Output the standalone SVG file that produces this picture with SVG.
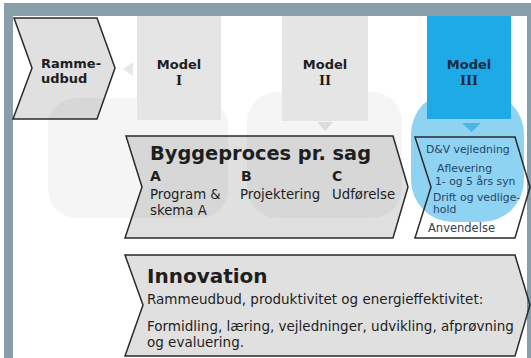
<svg xmlns="http://www.w3.org/2000/svg" width="531" height="358" viewBox="0 0 531 358">
<style>
.t{font-family:"DejaVu Sans","Liberation Sans",sans-serif;fill:#1e1e1e}
.b{font-weight:bold}
.num{font-family:"DejaVu Serif","Liberation Serif",serif;font-weight:bold}
.chev{fill:#000;fill-opacity:.12;stroke:#2a2a2a;stroke-width:1.5;stroke-linejoin:miter}
.chevw{fill:none;stroke:#2a2a2a;stroke-width:1.5;stroke-linejoin:miter}
.mbox{fill:#e5e5e5}
.frame{fill:#889ea8}
.bg{fill:#000;fill-opacity:.04}
.bt{fill:#24456a}
</style>
<rect width="531" height="358" fill="#ffffff"/>
<g id="frame">
<rect class="frame" x="4" y="3" width="527" height="13"/>
<rect class="frame" x="4" y="3" width="9" height="355"/>
<rect class="frame" x="527" y="3" width="4" height="355"/>
</g>
<g id="background">
<rect class="bg" x="48" y="98" width="180" height="120" rx="28"/>
<rect class="bg" x="247" y="92" width="155" height="126" rx="30"/>
<rect x="411" y="92" width="113" height="130" rx="42" fill="#8ed3f2"/>
</g>
<g id="model1">
<rect class="mbox" x="137" y="16" width="84" height="104"/>
<text class="t b" x="179" y="69" font-size="13" text-anchor="middle">Model</text>
<text class="t num" x="179" y="85" font-size="13" text-anchor="middle">I</text>
</g>
<g id="model2">
<rect class="mbox" x="282" y="16" width="86" height="105"/>
<text class="t b" x="325" y="69" font-size="13" text-anchor="middle">Model</text>
<text class="t num" x="325" y="85" font-size="13" text-anchor="middle">II</text>
</g>
<g id="model3">
<rect x="427" y="16" width="84" height="103" fill="#1daae6"/>
<text class="t b" x="469" y="69" font-size="13" text-anchor="middle" style="fill:#1b2c44">Model</text>
<text class="t num" x="469" y="85" font-size="13" text-anchor="middle" style="fill:#1b2c44">III</text>
</g>
<g id="connectors">
<polygon points="123,69 133,62 133,76" fill="#e8e8e8"/>
<polygon points="317,122 333,122 325,131" fill="#dcdcdc"/>
<polygon points="462,123 481,123 471.5,132" fill="#4db5e6"/>
</g>
<g id="rammeudbud">
<polygon class="chev" points="14,18 97,18 115,68 97,119 13,119 32,68"/>
<text class="t b" x="41" y="68" font-size="13">Ramme-</text>
<text class="t b" x="41" y="83" font-size="13">udbud</text>
</g>
<g id="byggeproces">
<polygon class="chev" points="126,136 393,136 408,187 393,238 125,238 142,187"/>
<text class="t b" x="150" y="160" font-size="19" textLength="221" lengthAdjust="spacingAndGlyphs">Byggeproces pr. sag</text>
<text class="t b" x="150" y="181" font-size="14">A</text>
<text class="t b" x="241" y="181" font-size="14">B</text>
<text class="t b" x="332" y="181" font-size="14">C</text>
<text class="t" x="150" y="199" font-size="13.3">Program &amp;</text>
<text class="t" x="150" y="215" font-size="13.3">skema A</text>
<text class="t" x="240" y="199" font-size="13.3">Projektering</text>
<text class="t" x="332" y="199" font-size="13.3">Udførelse</text>
</g>
<g id="anvendelse">
<polygon class="chevw" points="415,137 515,137 530,187 515,238 415,238 431,187"/>
<text class="t bt" x="426" y="153" font-size="10.8">D&amp;V vejledning</text>
<text class="t bt" x="437" y="172" font-size="10.8">Aflevering</text>
<text class="t bt" x="435" y="185" font-size="10.8">1- og 5 års syn</text>
<text class="t bt" x="433" y="201" font-size="10.8">Drift og vedlige-</text>
<text class="t bt" x="433" y="213" font-size="10.8">hold</text>
<text class="t" x="428" y="232" font-size="11.5" style="fill:#34404e">Anvendelse</text>
</g>
<g id="innovation">
<polygon class="chev" points="125,255 515,255 530,305 515,356 125,356 143,305"/>
<text class="t b" x="147" y="283" font-size="20">Innovation</text>
<text class="t" x="147" y="304" font-size="13.5">Rammeudbud, produktivitet og energieffektivitet:</text>
<text class="t" x="147" y="331" font-size="13.5">Formidling, læring, vejledninger, udvikling, afprøvning</text>
<text class="t" x="147" y="347" font-size="13.5">og evaluering.</text>
</g>
</svg>
